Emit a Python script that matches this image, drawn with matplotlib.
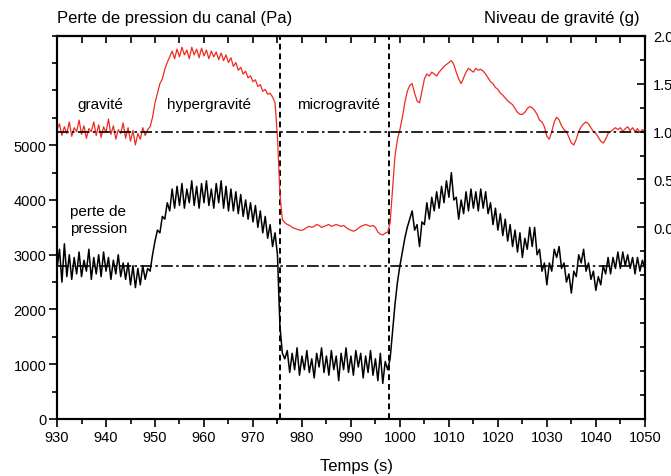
import numpy as np
import matplotlib
matplotlib.use("Agg")
import matplotlib.pyplot as plt
from matplotlib.ticker import MultipleLocator, FixedLocator, FormatStrFormatter

plt.rcParams['font.family'] = ['Liberation Sans', 'DejaVu Sans']

# temps (s), pas de 0.5 s
temps = np.arange(930, 1050.001, 0.5)

# perte de pression du canal (Pa), une ligne = 5 s
pression = [
    2750, 3100, 2500, 3200, 2600, 3000, 2550, 2950, 2650, 3050,   # 930
    2600, 2900, 2700, 3100, 2550, 2950, 2650, 3000, 2600, 3050,   # 935
    2700, 2950, 2550, 2900, 2650, 3000, 2600, 2850, 2550, 2850,   # 940
    2450, 2800, 2400, 2750, 2450, 2800, 2550, 2750, 2700, 3000,   # 945
    3250, 3450, 3400, 3700, 3650, 3950, 3800, 4200, 3850, 4250,   # 950
    3900, 4300, 3850, 4200, 3950, 4350, 3900, 4250, 3850, 4300,   # 955
    3950, 4350, 3900, 4200, 3850, 4300, 3950, 4350, 3850, 4250,   # 960
    3800, 4200, 3800, 4150, 3750, 4100, 3700, 4000, 3650, 3950,   # 965
    3600, 3900, 3500, 3800, 3400, 3700, 3300, 3550, 3150, 3400,   # 970
    3000, 1700, 1200, 1100, 1250, 850, 1200, 900, 1300, 800,      # 975
    1150, 900, 1250, 850, 1100, 750, 1200, 950, 1300, 850,        # 980
    1150, 800, 1250, 900, 1150, 700, 1200, 900, 1300, 850,        # 985
    1150, 800, 1250, 950, 1200, 750, 1150, 850, 1250, 800,        # 990
    1100, 700, 1200, 650, 1050, 900, 1100, 1600, 2100, 2500,      # 995
    2800, 3050, 3300, 3500, 3650, 3800, 3450, 3550, 3150, 3600,   # 1000
    3550, 3950, 3650, 4050, 3800, 4150, 3850, 4250, 3950, 4350,   # 1005
    4050, 4500, 4000, 4050, 3650, 4000, 3750, 4150, 3800, 4200,   # 1010
    3850, 4150, 3800, 4200, 3850, 4150, 3750, 3950, 3550, 3850,   # 1015
    3450, 3750, 3350, 3650, 3250, 3550, 3150, 3450, 3050, 3400,   # 1020
    2950, 3300, 3100, 3500, 3150, 3500, 3000, 3100, 2700, 2850,   # 1025
    2450, 2850, 2700, 3100, 2950, 3150, 2750, 2850, 2500, 2650,   # 1030
    2300, 2700, 2600, 3000, 2850, 3100, 2700, 2850, 2550, 2700,   # 1035
    2350, 2600, 2450, 2800, 2650, 2950, 2650, 2950, 2750, 3050,   # 1040
    2750, 3050, 2800, 3000, 2750, 2950, 2650, 2950, 2700, 2900,   # 1045
    2750,                                                         # 1050
]

# niveau de gravité (g)
gravite = [
    1.02, 1.08, 0.96, 1.05, 0.98, 1.10, 0.95, 1.04, 1.00, 1.12,   # 930
    0.97, 1.06, 0.93, 1.03, 1.00, 1.10, 0.96, 1.07, 0.94, 1.05,   # 935
    0.99, 1.13, 0.97, 1.06, 0.92, 1.02, 0.98, 1.09, 0.93, 1.04,   # 940
    0.90, 1.01, 0.86, 0.98, 0.92, 1.04, 0.96, 1.02, 1.05, 1.15,   # 945
    1.30, 1.40, 1.50, 1.55, 1.65, 1.72, 1.78, 1.84, 1.76, 1.86,   # 950
    1.78, 1.88, 1.80, 1.85, 1.76, 1.88, 1.80, 1.86, 1.77, 1.87,   # 955
    1.79, 1.85, 1.76, 1.84, 1.78, 1.83, 1.75, 1.82, 1.74, 1.80,   # 960
    1.72, 1.77, 1.68, 1.72, 1.64, 1.67, 1.60, 1.63, 1.56, 1.58,   # 965
    1.52, 1.54, 1.47, 1.49, 1.42, 1.44, 1.39, 1.40, 1.36, 1.30,   # 970
    0.95, 0.35, 0.08, 0.05, 0.03, 0.02, 0.00, -0.01, -0.02, -0.03,  # 975
    -0.03, -0.02, 0.00, 0.01, 0.00, 0.01, 0.03, 0.02, 0.00, 0.01,   # 980
    0.02, 0.03, 0.01, 0.02, 0.03, 0.02, 0.01, 0.02, 0.00, -0.02,    # 985
    -0.03, -0.04, -0.03, -0.01, 0.01, 0.02, 0.03, 0.02, 0.01, 0.02,  # 990
    0.00, -0.05, -0.07, -0.08, -0.06, -0.05, 0.05, 0.40, 0.75, 0.92,  # 995
    1.02, 1.15, 1.30, 1.42, 1.48, 1.50, 1.40, 1.32, 1.30, 1.42,   # 1000
    1.55, 1.60, 1.58, 1.62, 1.60, 1.58, 1.62, 1.65, 1.68, 1.70,   # 1005
    1.72, 1.74, 1.70, 1.62, 1.55, 1.50, 1.56, 1.62, 1.66, 1.64,   # 1010
    1.62, 1.66, 1.64, 1.65, 1.63, 1.60, 1.56, 1.52, 1.50, 1.46,   # 1015
    1.44, 1.40, 1.38, 1.35, 1.32, 1.30, 1.28, 1.24, 1.20, 1.18,   # 1020
    1.18, 1.20, 1.24, 1.26, 1.25, 1.22, 1.18, 1.12, 1.10, 1.05,   # 1025
    0.95, 0.92, 1.00, 1.10, 1.15, 1.12, 1.06, 1.02, 1.00, 0.94,   # 1030
    0.88, 0.86, 0.92, 1.00, 1.05, 1.08, 1.10, 1.08, 1.04, 1.00,   # 1035
    0.98, 0.94, 0.90, 0.88, 0.92, 0.98, 1.00, 1.02, 1.04, 1.02,   # 1040
    1.04, 1.00, 1.03, 1.05, 1.01, 1.04, 1.00, 1.03, 0.99, 1.02,   # 1045
    1.00,                                                         # 1050
]

pression_ref = 2800      # niveau de référence (Pa)
gravite_ref = 1.0        # 1 g
debut_micro = 975.6
fin_micro = 997.8

fig = plt.figure(figsize=(6.71, 4.77), dpi=100)
ax = fig.add_axes([0.085, 0.1195, 0.876, 0.8035])
ax2 = ax.twinx()

ax.plot(temps, pression, color='black', lw=1.1, zorder=2)
ax2.plot(temps, gravite, color='#ee2a22', lw=0.9, zorder=2)

ax.axhline(pression_ref, color='black', lw=1.2, dashes=(7, 2, 1.5, 2), zorder=5)
ax2.axhline(gravite_ref, color='black', lw=1.2, dashes=(7, 2, 1.5, 2), zorder=5)
for tx in (debut_micro, fin_micro):
    ax.axvline(tx, color='black', lw=1.4, dashes=(3, 2), zorder=5)

ax.set_xlim(930, 1050)
ax.set_ylim(0, 7000)
ax2.set_ylim(-2, 2)

ax.xaxis.set_major_locator(MultipleLocator(10))
ax.xaxis.set_minor_locator(MultipleLocator(5))
ax.yaxis.set_major_locator(FixedLocator([0, 1000, 2000, 3000, 4000, 5000]))
ax.yaxis.set_minor_locator(MultipleLocator(500))
ax2.yaxis.set_major_locator(FixedLocator([0, 0.5, 1.0, 1.5, 2.0]))
ax2.yaxis.set_minor_locator(MultipleLocator(0.25))
ax2.yaxis.set_major_formatter(FormatStrFormatter('%.1f'))

ax.tick_params(axis='x', which='major', direction='out', length=6, width=1.2, labelsize=10.5, pad=2)
ax.tick_params(axis='x', which='minor', direction='out', length=3.5, width=1.2)
ax.tick_params(axis='y', which='major', direction='out', length=6, width=1.2, labelsize=10.5, pad=1.5)
ax.tick_params(axis='y', which='minor', direction='out', length=3.5, width=1.2)
ax2.tick_params(axis='y', which='major', direction='in', length=6, width=1.2, labelsize=10.5, pad=6)
ax2.tick_params(axis='y', which='minor', direction='in', length=3.5, width=1.2)

top = ax.secondary_xaxis('top')
top.xaxis.set_major_locator(MultipleLocator(10))
top.xaxis.set_minor_locator(MultipleLocator(5))
top.tick_params(which='major', direction='in', length=5, width=1.2, labeltop=False)
top.tick_params(which='minor', direction='in', length=5, width=1.2)

for a in (ax, ax2):
    for s in a.spines.values():
        s.set_linewidth(1.5)
top.spines['top'].set_linewidth(1.5)

# étiquettes des phases
ax.text(934.1, 5750, 'gravité', fontsize=11, va='center')
ax.text(952.5, 5750, 'hypergravité', fontsize=11, va='center')
ax.text(979.1, 5750, 'microgravité', fontsize=11, va='center')
ax.text(932.7, 3650, 'perte de\npression', fontsize=11, va='center', linespacing=1.25)

fig.text(57 / 671, 0.962, 'Perte de pression du canal (Pa)', fontsize=12, va='center', ha='left')
fig.text(640 / 671, 0.962, 'Niveau de gravité (g)', fontsize=12, va='center', ha='right')
fig.text(356 / 671, 0.021, 'Temps (s)', fontsize=12, va='center', ha='center')

fig.savefig('out.png', dpi=100)
